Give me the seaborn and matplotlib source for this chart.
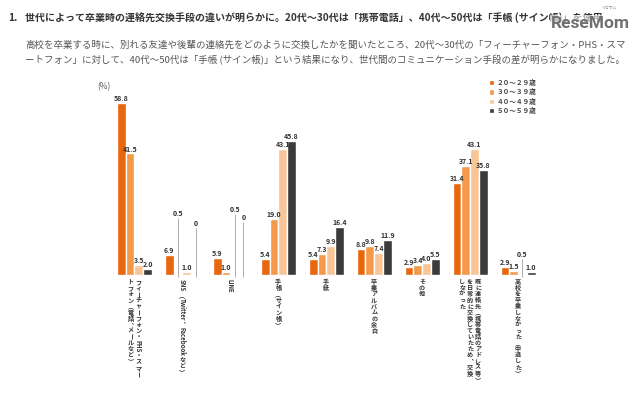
import matplotlib
matplotlib.use("Agg")
import matplotlib.pyplot as plt
import pandas as pd
import seaborn as sns
from matplotlib.font_manager import FontProperties
from matplotlib.textpath import TextPath

# data
CATEGORY_COLUMNS = [
    ["フィーチャーフォン・PHS・スマー", "トフォン（電話、メールなど）"],
    ["SNS（Twitter、Facebookなど）"],
    ["LINE"],
    ["手帳（サイン帳）"],
    ["手紙"],
    ["卒業アルバムの余白"],
    ["その他"],
    ["既に連絡先（携帯電話のアドレス等）", "を日常的に交換していたため、交換", "しなかった"],
    ["高校を卒業しなかった（中退した）"],
]
AGES = ["２０～２９歳", "３０～３９歳", "４０～４９歳", "５０～５９歳"]
AGE_20S = [58.8, 6.9, 5.9, 5.4, 5.4, 8.8, 2.9, 31.4, 2.9]
AGE_30S = [41.5, 0.5, 1.0, 19.0, 7.3, 9.8, 3.4, 37.1, 1.5]
AGE_40S = [3.5, 1.0, 0.5, 43.1, 9.9, 7.4, 4.0, 43.1, 0.5]
AGE_50S = [2.0, 0.0, 0.0, 45.8, 16.4, 11.9, 5.5, 35.8, 1.0]

# labels for near-zero bars sit on a thin leader line: (category, age) -> label height
LEADERS = {(1, 1): 19.8, (1, 3): 16.4, (2, 2): 21.2, (2, 3): 18.4, (8, 2): 5.8}

COLORS = ["#e8660c", "#f2994a", "#f8c597", "#3b3b3b"]
TITLE = ("世代によって卒業時の連絡先交換手段の違いが明らかに。20代～30代は「携帯電話」、"
         "40代～50代は「手帳 (サイン帳)」を使用")
SUB_1 = ("高校を卒業する時に、別れる友達や後輩の連絡先をどのように交換したかを聞いたところ、"
         "20代～30代の「フィーチャーフォン・PHS・スマ")
SUB_2 = "ートフォン」に対して、40代～50代は「手帳 (サイン帳)」という結果になり、世代間のコミュニケーション手段の差が明らかになりました。"

CJK = "Noto Sans CJK JP"
VERT = {"（": "\ufe35", "）": "\ufe36", "、": "\ufe11", "。": "\ufe12"}
ROTATE = set("ー～－")


def vertical_label(ax, xc, columns, size=4.4):
    # Japanese vertical writing: first column on the right
    fp = FontProperties(family=CJK, weight="bold", size=size)
    col_gap = size * 1.3
    n = len(columns)
    for ci, col in enumerate(columns):
        dx = ((n - 1) / 2 - ci) * col_gap
        cursor = 2.5
        i = 0
        while i < len(col):
            if col[i].isascii():
                j = i
                while j < len(col) and col[j].isascii():
                    j += 1
                seg = col[i:j]
                w = TextPath((0, 0), seg, size=size, prop=fp).get_extents().width + 0.8
                ax.annotate(seg, (xc, 0), xytext=(dx, -(cursor + w / 2)),
                            textcoords="offset points", rotation=-90,
                            ha="center", va="center", fontproperties=fp,
                            color="#333333", annotation_clip=False)
                cursor += w
                i = j
            else:
                ch = col[i]
                ax.annotate(VERT.get(ch, ch), (xc, 0),
                            xytext=(dx, -(cursor + size * 0.5)),
                            textcoords="offset points",
                            rotation=-90 if ch in ROTATE else 0,
                            ha="center", va="center", fontproperties=fp,
                            color="#333333", annotation_clip=False)
                cursor += size * 1.0
                i += 1


def main() -> None:
    sns.set_style("white")
    plt.rcParams["font.family"] = [CJK, "DejaVu Sans"]

    series = [AGE_20S, AGE_30S, AGE_40S, AGE_50S]
    rows = []
    for age, vals in zip(AGES, series):
        for ci, v in enumerate(vals):
            rows.append({"cat": str(ci), "age": age, "value": v})
    df = pd.DataFrame(rows)

    fig = plt.figure(figsize=(6.4, 3.94), dpi=100)
    ax = fig.add_axes([110.5 / 640, 119 / 394, 431.5 / 640, 175.8 / 394])
    sns.barplot(data=df, x="cat", y="value", hue="age", hue_order=AGES,
                palette=COLORS, width=0.73, saturation=1, ax=ax)
    ax.set_xlim(-0.5, 8.5)
    ax.set_ylim(0, 60)
    ax.set_xticks([])
    ax.set_yticks([])
    ax.set_xlabel("")
    ax.set_ylabel("")
    for s in ax.spines.values():
        s.set_visible(False)

    for hi, cont in enumerate(ax.containers):
        for bar in cont:
            x = bar.get_x() + bar.get_width() / 2
            ci = int(round(x))
            v = series[hi][ci]
            txt = "0" if v == 0 else f"{v:.1f}"
            if (ci, hi) in LEADERS:
                top = LEADERS[(ci, hi)]
                ax.vlines(x, -0.8, top - 0.3, color="#a0a0a0", lw=0.6,
                          clip_on=False)
                ax.text(x, top, txt, ha="center", va="bottom", fontsize=5,
                        weight="bold", color="#333333")
            else:
                ax.annotate(txt, (x, v), xytext=(0, 0.6), textcoords="offset points",
                            ha="center", va="bottom", fontsize=5, weight="bold",
                            color="#333333")

    for ci, cols in enumerate(CATEGORY_COLUMNS):
        vertical_label(ax, ci, cols)

    handles, labels = ax.get_legend_handles_labels()
    leg = ax.legend(handles, labels, loc="upper left",
                    bbox_to_anchor=(489 / 640, 1 - 79 / 394),
                    bbox_transform=fig.transFigure, frameon=False,
                    prop=FontProperties(family=CJK, weight="bold", size=4.8),
                    handlelength=0.8, handleheight=0.8, handletextpad=0.3,
                    labelspacing=0.35, borderpad=0, borderaxespad=0)
    for t in leg.get_texts():
        t.set_color("#444444")

    fig.text(97 / 640, 1 - 87 / 394, "(%)", fontsize=6, color="#555555",
             va="center")
    fig.text(8 / 640, 1 - 18 / 394, "1.", fontsize=7.2, weight="bold",
             color="#333333", va="center")
    fig.text(25 / 640, 1 - 18 / 394, TITLE, fontsize=7.2, weight="bold",
             color="#333333", va="center")
    fig.text(25 / 640, 1 - 45 / 394, SUB_1, fontsize=6.8, color="#555555",
             va="center")
    fig.text(25 / 640, 1 - 60 / 394, SUB_2, fontsize=6.8, color="#555555",
             va="center")
    fig.text(551 / 640, 1 - 23 / 394, "ReseMom", fontsize=12.5, weight="bold",
             family="Roboto", color="#707070", va="center", zorder=5,
             bbox=dict(facecolor="white", edgecolor="none", alpha=0.6, pad=0.5))
    fig.text(609 / 640, 1 - 8 / 394, "リセマム", fontsize=2.8, color="#808080",
             va="center", ha="center")

    fig.savefig("out.png", dpi=100)
    plt.close(fig)


if __name__ == "__main__":
    main()
